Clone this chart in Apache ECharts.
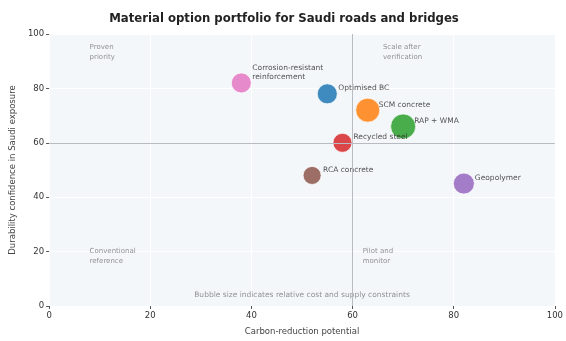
<!DOCTYPE html>
<html><head><meta charset="utf-8">
<script src="https://cdn.jsdelivr.net/npm/echarts@6/dist/echarts.min.js"></script>
<style>html,body{margin:0;padding:0;background:#fff}#c{width:566px;height:341px}</style>
</head><body><div id="c"></div>
<script>
const materials = ["Corrosion-resistant\nreinforcement","Optimised BC","SCM concrete","RAP + WMA","Recycled steel","RCA concrete","Geopolymer"];
const carbonReduction = [38, 55, 63, 70, 58, 52, 82];
const durability = [82, 78, 72, 66, 60, 48, 45];
const relativeCost = [4, 4, 6, 6.5, 3.5, 3, 4.5];
const colors = ["#e377c2","#1f77b4","#ff7f0e","#2ca02c","#d62728","#8c564b","#9467bd"];
const xTicks = [0, 20, 40, 60, 80, 100];
const yTicks = [0, 20, 40, 60, 80, 100];
const quadrantLabels = [
  {text:"Proven\npriority", x:8, y:97},
  {text:"Scale after\nverification", x:66, y:97},
  {text:"Conventional\nreference", x:8, y:22},
  {text:"Pilot and\nmonitor", x:62, y:22}
];
const footnote = {text:"Bubble size indicates relative cost and supply constraints", x:50, y:4};
const thresholdX = 60, thresholdY = 60;

const FONT = "DejaVu Sans";
const chart = echarts.init(document.getElementById('c'), null, {renderer:'canvas'});
chart.setOption({
  animation:false,
  backgroundColor:'#ffffff',
  title:{text:"Material option portfolio for Saudi roads and bridges", left:279, textAlign:'center', top:8,
    textStyle:{fontFamily:FONT, fontSize:11.7, fontWeight:'bold', color:'#222'}},
  grid:{left:46, right:8, top:34, bottom:29, show:true, backgroundColor:'#f4f7fa', borderWidth:0},
  xAxis:{type:'value', min:0, max:100, interval:20, name:"Carbon-reduction potential", nameLocation:'middle', nameGap:21,
    nameTextStyle:{fontFamily:FONT, fontSize:8.5, color:'#444'},
    axisLine:{show:false}, axisTick:{show:true, length:3, lineStyle:{color:'#555'}},
    axisLabel:{fontFamily:FONT, fontSize:8.5, color:'#333', margin:5, formatter:v=>xTicks.includes(v)?String(v):''},
    splitLine:{show:true, lineStyle:{color:'#ffffff', width:1}}},
  yAxis:{type:'value', min:0, max:100, interval:20, name:"Durability confidence in Saudi exposure", nameLocation:'middle', nameGap:31,
    nameTextStyle:{fontFamily:FONT, fontSize:8.5, color:'#444'},
    axisLine:{show:false}, axisTick:{show:true, length:3, lineStyle:{color:'#555'}},
    axisLabel:{fontFamily:FONT, fontSize:8.5, color:'#333', margin:5, formatter:v=>yTicks.includes(v)?String(v):''},
    splitLine:{show:true, lineStyle:{color:'#ffffff', width:1}}},
  series:[
    {type:'scatter', silent:true, z:1,
      data:[],
      markLine:{silent:true, symbol:'none', label:{show:false}, lineStyle:{color:'#b8bcc2', width:1, type:'solid'},
        data:[{xAxis:thresholdX},{yAxis:thresholdY}]}},
    {type:'scatter', z:3,
      data: materials.map((m,i)=>({name:m, value:[carbonReduction[i], durability[i], relativeCost[i]],
        itemStyle:{color:colors[i]}})),
      symbolSize: v => 12 + v[2]*2,
      itemStyle:{opacity:0.85, borderColor:'#ffffff', borderWidth:0.8},
      label:{show:true, position:'inside', align:'left', verticalAlign:'bottom', offset:[11,-1],
        formatter:p=>p.name, fontFamily:FONT, fontSize:7.5, color:'#333', lineHeight:9}},
    {type:'scatter', z:2, symbolSize:0, silent:true,
      data: quadrantLabels.map(q=>({name:q.text, value:[q.x,q.y]})),
      label:{show:true, position:'inside', align:'left', verticalAlign:'top', formatter:p=>p.name,
        fontFamily:FONT, fontSize:7, color:'#777', lineHeight:10}},
    {type:'scatter', z:2, symbolSize:0, silent:true,
      data:[{name:footnote.text, value:[footnote.x, footnote.y]}],
      label:{show:true, position:'inside', align:'center', verticalAlign:'middle', formatter:p=>p.name,
        fontFamily:FONT, fontSize:7.5, color:'#777'}}
  ]
});
</script></body></html>
